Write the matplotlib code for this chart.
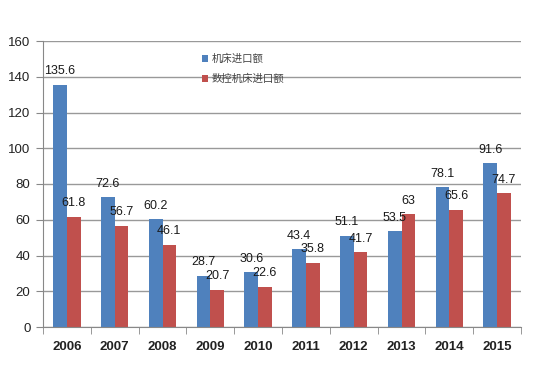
import matplotlib
matplotlib.use("Agg")
import matplotlib.pyplot as plt
import numpy as np

years = ["2006", "2007", "2008", "2009", "2010", "2011", "2012", "2013", "2014", "2015"]
machine_import = [135.6, 72.6, 60.2, 28.7, 30.6, 43.4, 51.1, 53.5, 78.1, 91.6]
cnc_import = [61.8, 56.7, 46.1, 20.7, 22.6, 35.8, 41.7, 63, 65.6, 74.7]
series_names = ["机床进口额", "数控机床进口额"]
yticks = [0, 20, 40, 60, 80, 100, 120, 140, 160]

plt.rcParams['font.family'] = ['Noto Sans CJK SC', 'DejaVu Sans']

fig = plt.figure(figsize=(5.53, 3.67), dpi=100)
ax = fig.add_axes([43/553, 1-327/367, (521-43)/553, (327-41)/367])

x = np.arange(len(years))
w = 0.285
blue = "#4F81BD"
red = "#C0504D"
b1 = ax.bar(x - w/2, machine_import, w, color=blue, label=series_names[0], zorder=2)
b2 = ax.bar(x + w/2, cnc_import, w, color=red, label=series_names[1], zorder=2)

def fmt(v):
    return str(int(v)) if float(v).is_integer() else f"{v}"

for bars, vals in ((b1, machine_import), (b2, cnc_import)):
    for r, v in zip(bars, vals):
        ax.annotate(fmt(v), (r.get_x() + r.get_width()/2, r.get_height()),
                    xytext=(0, 5.5), textcoords="offset points", ha="center", va="bottom",
                    fontsize=9, color="#1a1a1a", family=['Liberation Sans', 'DejaVu Sans'],
                    zorder=4)

ax.set_xlim(-0.5, len(years) - 0.5)
ax.set_ylim(0, 160)
ax.set_yticks(yticks)
ax.set_yticklabels([str(t) for t in yticks], family=['Liberation Sans'], fontsize=9.5, color="#222222")
ax.set_xticks(x)
ax.set_xticklabels(years, family=['Liberation Sans'], fontsize=9.5, color="#222222", fontweight="bold")
ax.tick_params(axis='x', length=0, pad=10)
ax.set_xticks(np.arange(-0.5, len(years)), minor=True)
ax.tick_params(axis='x', which='minor', length=5, color="#888888", direction='out')
ax.tick_params(axis='y', length=5, color="#888888", direction='out', pad=4)

ax.grid(axis='y', color="#999999", linewidth=1, zorder=0)
ax.set_axisbelow(True)
for s in ("top", "right"):
    ax.spines[s].set_visible(False)
for s in ("left", "bottom"):
    ax.spines[s].set_color("#888888")

leg = ax.legend(loc="upper left", bbox_to_anchor=(0.313, 0.988), frameon=False, fontsize=7.5,
                handlelength=0.6, handleheight=0.6, handletextpad=0.3, labelspacing=0.95,
                labelcolor="#444444")

fig.savefig("out.png", dpi=100)
